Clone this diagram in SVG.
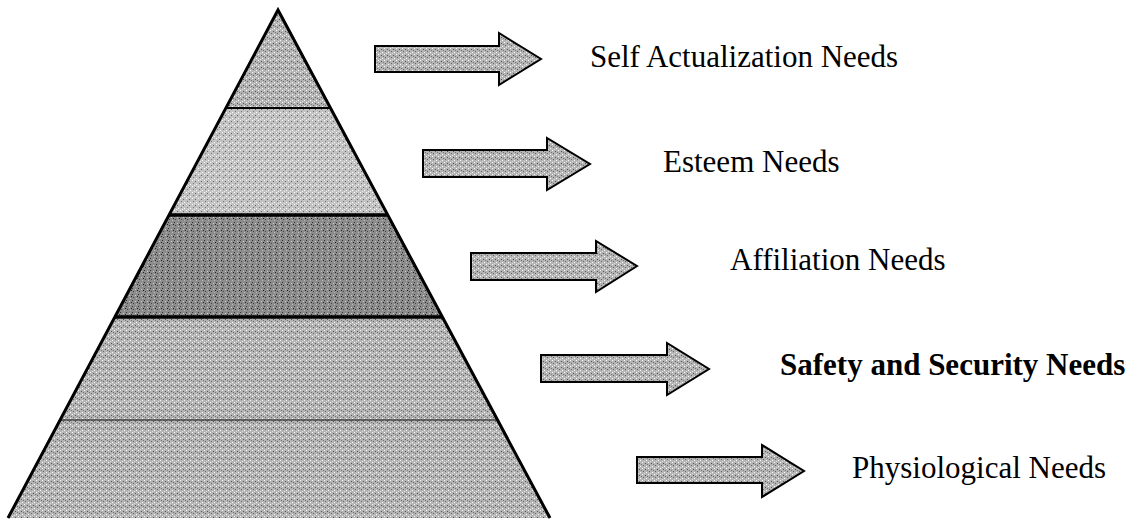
<svg xmlns="http://www.w3.org/2000/svg" width="1137" height="522" viewBox="0 0 1137 522">
  <defs>
    <pattern id="tex" width="6" height="6" patternUnits="userSpaceOnUse">
      <rect width="6" height="6" fill="#b4b4b4"/>
      <rect x="0" y="0" width="1" height="1" fill="#ffffff"/>
      <rect x="3" y="1" width="1" height="1" fill="#555"/>
      <rect x="1" y="3" width="1" height="1" fill="#666"/>
      <rect x="4" y="4" width="1" height="1" fill="#fff"/>
      <rect x="5" y="2" width="1" height="1" fill="#777"/>
      <rect x="2" y="5" width="1" height="1" fill="#ddd"/>
    </pattern>
    <pattern id="texLight" width="6" height="6" patternUnits="userSpaceOnUse">
      <rect width="6" height="6" fill="#c2c2c2"/>
      <rect x="0" y="0" width="1" height="1" fill="#fff"/>
      <rect x="3" y="1" width="1" height="1" fill="#666"/>
      <rect x="1" y="3" width="1" height="1" fill="#777"/>
      <rect x="4" y="4" width="1" height="1" fill="#fff"/>
      <rect x="2" y="5" width="1" height="1" fill="#eee"/>
    </pattern>
    <pattern id="texDark" width="6" height="6" patternUnits="userSpaceOnUse">
      <rect width="6" height="6" fill="#8c8c8c"/>
      <rect x="0" y="0" width="1" height="1" fill="#333"/>
      <rect x="3" y="1" width="1" height="1" fill="#ccc"/>
      <rect x="1" y="3" width="1" height="1" fill="#444"/>
      <rect x="4" y="4" width="1" height="1" fill="#bbb"/>
      <rect x="5" y="2" width="1" height="1" fill="#222"/>
    </pattern>
    <style>
      .level { stroke: none; }
      .band { stroke: #000; fill: none; }
      .arrow { fill: url(#tex); stroke: #000; stroke-width: 2; stroke-linejoin: miter; }
      .label { font-family: "Liberation Serif", "Times New Roman", serif; font-size: 31px; fill: #000; }
      .bold { font-weight: bold; }
    </style>
  </defs>
  <rect width="1137" height="522" fill="#fff"/>

  <g id="level-self-actualization">
    <polygon class="level" points="278,10 330.5,108 225.9,108" fill="url(#tex)"/>
  </g>
  <g id="level-esteem">
    <polygon class="level" points="225.9,108 330.5,108 387.8,215 169,215" fill="url(#texLight)"/>
  </g>
  <g id="level-affiliation">
    <polygon class="level" points="169,215 387.8,215 442.4,317 114.8,317" fill="url(#texDark)"/>
  </g>
  <g id="level-safety">
    <polygon class="level" points="114.8,317 442.4,317 497.5,420 60.1,420" fill="url(#tex)"/>
  </g>
  <g id="level-physiological">
    <polygon class="level" points="60.1,420 497.5,420 550,518 8,518" fill="url(#tex)"/>
  </g>
  <g id="pyramid-outline">
    <polyline class="band" points="8,518 278,10 550,518" stroke-width="3"/>
    <line class="band" x1="225.9" y1="108" x2="330.5" y2="108" stroke-width="2"/>
    <line class="band" x1="169" y1="215" x2="387.8" y2="215" stroke-width="3.5"/>
    <line class="band" x1="114.8" y1="317" x2="442.4" y2="317" stroke-width="3.5"/>
    <line class="band" x1="60.1" y1="420" x2="497.5" y2="420" stroke-width="1" stroke="#8a8a8a"/>
  </g>

  <g id="connectors">
    <polygon class="arrow" points="375,46 499,46 499,33 541,59 499,85 499,72 375,72"/>
    <polygon class="arrow" points="423,150 547,150 547,138 590,164 547,190 547,177 423,177"/>
    <polygon class="arrow" points="471,253 596,253 596,241 637,266 596,292 596,280 471,280"/>
    <polygon class="arrow" points="541,355 667,355 667,343 709,369 667,395 667,382 541,382"/>
    <polygon class="arrow" points="637,457 762,457 762,445 804,471 762,497 762,483 637,483"/>
  </g>

  <g id="label-self-actualization">
    <text class="label" x="590" y="67">Self Actualization Needs</text>
  </g>
  <g id="label-esteem">
    <text class="label" x="663" y="172">Esteem Needs</text>
  </g>
  <g id="label-affiliation">
    <text class="label" x="730" y="270">Affiliation Needs</text>
  </g>
  <g id="label-safety">
    <text class="label bold" x="780" y="375">Safety and Security Needs</text>
  </g>
  <g id="label-physiological">
    <text class="label" x="852" y="478">Physiological Needs</text>
  </g>
</svg>
